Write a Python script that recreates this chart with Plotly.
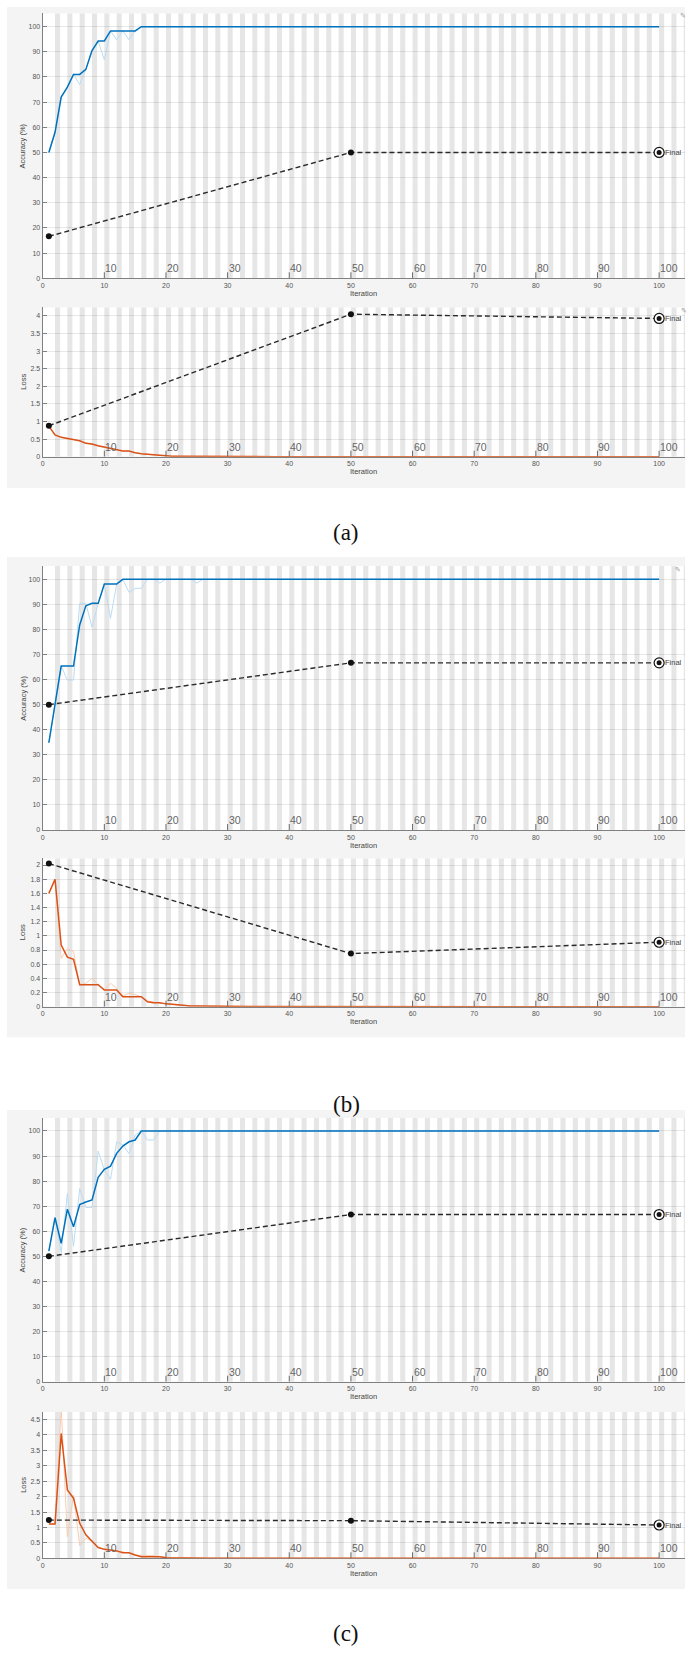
import plotly.graph_objects as go

W, H = 692, 1653

# ---------------- data ----------------
ITER = list(range(1, 101))

ACC_A_SMOOTH = [50, 58, 72, 76, 81, 81, 83, 90.5, 94.3, 94.3, 98.3, 98.3, 98.3, 98.3, 98.3, 100, 100, 100, 100, 100,
                100, 100, 100, 100, 100, 100, 100, 100, 100, 100, 100, 100, 100, 100, 100, 100, 100, 100, 100, 100,
                100, 100, 100, 100, 100, 100, 100, 100, 100, 100, 100, 100, 100, 100, 100, 100, 100, 100, 100, 100,
                100, 100, 100, 100, 100, 100, 100, 100, 100, 100, 100, 100, 100, 100, 100, 100, 100, 100, 100, 100,
                100, 100, 100, 100, 100, 100, 100, 100, 100, 100, 100, 100, 100, 100, 100, 100, 100, 100, 100, 100]
ACC_A_RAW = [50, 58, 72, 76, 81, 77, 83, 90.5, 94.3, 86.8, 98.3, 94.8, 98.3, 94.8, 98.3, 100, 100, 100, 100, 100,
             100, 100, 100, 100, 100, 100, 100, 100, 100, 100, 100, 100, 100, 100, 100, 100, 100, 100, 100, 100,
             100, 100, 100, 100, 100, 100, 100, 100, 100, 100, 100, 100, 100, 100, 100, 100, 100, 100, 100, 100,
             100, 100, 100, 100, 100, 100, 100, 100, 100, 100, 100, 100, 100, 100, 100, 100, 100, 100, 100, 100,
             100, 100, 100, 100, 100, 100, 100, 100, 100, 100, 100, 100, 100, 100, 100, 100, 100, 100, 100, 100]
LOSS_A_SMOOTH = [0.87, 0.62, 0.55, 0.52, 0.49, 0.455, 0.38, 0.36, 0.31, 0.27, 0.23, 0.19, 0.16, 0.16, 0.11, 0.085, 0.07, 0.05, 0.03, 0.02,
                 0.015, 0.012, 0.01, 0.008, 0.006, 0.005, 0.004, 0.004, 0.003, 0.003, 0.003, 0.002, 0.002, 0.002, 0.002, 0.002, 0.001, 0.001, 0.001, 0.001,
                 0.001, 0.001, 0.001, 0.001, 0.001, 0.001, 0.001, 0.001, 0.001, 0.001, 0.001, 0.001, 0.001, 0.001, 0.001, 0.001, 0.001, 0.001, 0.001, 0.001,
                 0.001, 0.001, 0.001, 0.001, 0.001, 0.001, 0.001, 0.001, 0.001, 0.001, 0.0, 0.0, 0.0, 0.0, 0.0, 0.0, 0.0, 0.0, 0.0, 0.0,
                 0.0, 0.0, 0.0, 0.0, 0.0, 0.0, 0.0, 0.0, 0.0, 0.0, 0.0, 0.0, 0.0, 0.0, 0.0, 0.0, 0.0, 0.0, 0.0, 0.0]
LOSS_A_RAW = [0.87, 0.6, 0.56, 0.5, 0.49, 0.44, 0.38, 0.35, 0.3, 0.27, 0.22, 0.19, 0.16, 0.15, 0.11, 0.08, 0.07, 0.05, 0.03, 0.02,
              0.012, 0.01, 0.007, 0.005, 0.004, 0.004, 0.003, 0.003, 0.003, 0.002, 0.002, 0.002, 0.002, 0.001, 0.001, 0.001, 0.001, 0.001, 0.001, 0.001,
              0.001, 0.001, 0.001, 0.001, 0.001, 0.001, 0.001, 0.001, 0.001, 0.001, 0.001, 0.001, 0.001, 0.001, 0.001, 0.001, 0.001, 0.001, 0.001, 0.001,
              0.001, 0.001, 0.001, 0.001, 0.001, 0.001, 0.0, 0.0, 0.0, 0.0, 0.0, 0.0, 0.0, 0.0, 0.0, 0.0, 0.0, 0.0, 0.0, 0.0,
              0.0, 0.0, 0.0, 0.0, 0.0, 0.0, 0.0, 0.0, 0.0, 0.0, 0.0, 0.0, 0.0, 0.0, 0.0, 0.0, 0.0, 0.0, 0.0, 0.0]

ACC_B_SMOOTH = [34.8, 50, 65.4, 65.4, 65.4, 81.8, 89.4, 90.4, 90.4, 98.1, 98.1, 98.1, 100, 100, 100, 100, 100, 100, 100, 100,
                100, 100, 100, 100, 100, 100, 100, 100, 100, 100, 100, 100, 100, 100, 100, 100, 100, 100, 100, 100,
                100, 100, 100, 100, 100, 100, 100, 100, 100, 100, 100, 100, 100, 100, 100, 100, 100, 100, 100, 100,
                100, 100, 100, 100, 100, 100, 100, 100, 100, 100, 100, 100, 100, 100, 100, 100, 100, 100, 100, 100,
                100, 100, 100, 100, 100, 100, 100, 100, 100, 100, 100, 100, 100, 100, 100, 100, 100, 100, 100, 100]
ACC_B_RAW = [34.8, 50, 65.4, 59.8, 59.8, 90.4, 90.4, 80.9, 90.4, 98.1, 84.4, 98.1, 100, 94.8, 96.4, 96.4, 100, 100, 98.5, 100,
             100, 100, 100, 100, 98.5, 100, 100, 100, 100, 100, 100, 100, 100, 100, 100, 100, 100, 100, 100, 100,
             100, 100, 100, 100, 100, 100, 100, 100, 100, 100, 100, 100, 100, 100, 100, 100, 100, 100, 100, 100,
             100, 100, 100, 100, 100, 100, 100, 100, 100, 100, 100, 100, 100, 100, 100, 100, 100, 100, 100, 100,
             100, 100, 100, 100, 100, 100, 100, 100, 100, 100, 100, 100, 100, 100, 100, 100, 100, 100, 100, 100]
LOSS_B_SMOOTH = [1.6, 1.8, 0.87, 0.7, 0.67, 0.31, 0.31, 0.31, 0.31, 0.235, 0.235, 0.235, 0.14, 0.14, 0.14, 0.14, 0.07, 0.056, 0.056, 0.04,
                 0.035, 0.024, 0.015, 0.01, 0.01, 0.008, 0.006, 0.005, 0.004, 0.004, 0.003, 0.003, 0.003, 0.002, 0.002, 0.002, 0.002, 0.002, 0.001, 0.001,
                 0.001, 0.001, 0.001, 0.001, 0.001, 0.001, 0.001, 0.001, 0.001, 0.001, 0.001, 0.001, 0.001, 0.001, 0.001, 0.001, 0.001, 0.001, 0.001, 0.001,
                 0.001, 0.001, 0.001, 0.001, 0.001, 0.0, 0.0, 0.0, 0.0, 0.0, 0.0, 0.0, 0.0, 0.0, 0.0, 0.0, 0.0, 0.0, 0.0, 0.0,
                 0.0, 0.0, 0.0, 0.0, 0.0, 0.0, 0.0, 0.0, 0.0, 0.0, 0.0, 0.0, 0.0, 0.0, 0.0, 0.0, 0.0, 0.0, 0.0, 0.0]
LOSS_B_RAW = [1.6, 1.8, 0.68, 0.82, 0.78, 0.31, 0.33, 0.4, 0.31, 0.24, 0.33, 0.26, 0.15, 0.19, 0.17, 0.14, 0.08, 0.06, 0.05, 0.04,
              0.03, 0.02, 0.015, 0.01, 0.012, 0.008, 0.006, 0.005, 0.004, 0.003, 0.003, 0.003, 0.002, 0.002, 0.002, 0.002, 0.002, 0.001, 0.001, 0.001,
              0.001, 0.001, 0.001, 0.001, 0.001, 0.001, 0.001, 0.001, 0.001, 0.001, 0.001, 0.001, 0.001, 0.001, 0.001, 0.001, 0.001, 0.001, 0.001, 0.001,
              0.001, 0.001, 0.001, 0.001, 0.0, 0.0, 0.0, 0.0, 0.0, 0.0, 0.0, 0.0, 0.0, 0.0, 0.0, 0.0, 0.0, 0.0, 0.0, 0.0,
              0.0, 0.0, 0.0, 0.0, 0.0, 0.0, 0.0, 0.0, 0.0, 0.0, 0.0, 0.0, 0.0, 0.0, 0.0, 0.0, 0.0, 0.0, 0.0, 0.0]

ACC_C_SMOOTH = [52.1, 65.4, 55.2, 68.8, 61.8, 70.7, 71.7, 72.5, 81.5, 84.7, 86, 91.1, 94, 95.7, 96.4, 100, 100, 100, 100, 100,
                100, 100, 100, 100, 100, 100, 100, 100, 100, 100, 100, 100, 100, 100, 100, 100, 100, 100, 100, 100,
                100, 100, 100, 100, 100, 100, 100, 100, 100, 100, 100, 100, 100, 100, 100, 100, 100, 100, 100, 100,
                100, 100, 100, 100, 100, 100, 100, 100, 100, 100, 100, 100, 100, 100, 100, 100, 100, 100, 100, 100,
                100, 100, 100, 100, 100, 100, 100, 100, 100, 100, 100, 100, 100, 100, 100, 100, 100, 100, 100, 100]
ACC_C_RAW = [52.1, 65.4, 51.5, 75.1, 54, 77, 69.5, 69.5, 92, 84.4, 80.7, 95.7, 94.4, 91, 98.4, 100, 96.4, 96.4, 100, 100,
             100, 100, 100, 100, 100, 100, 100, 100, 100, 100, 100, 100, 100, 100, 100, 100, 100, 100, 100, 100,
             100, 100, 100, 100, 100, 100, 100, 100, 100, 100, 100, 100, 100, 100, 100, 100, 100, 100, 100, 100,
             100, 100, 100, 100, 100, 100, 100, 100, 100, 100, 100, 100, 100, 100, 100, 100, 100, 100, 100, 100,
             100, 100, 100, 100, 100, 100, 100, 100, 100, 100, 100, 100, 100, 100, 100, 100, 100, 100, 100, 100]
LOSS_C_SMOOTH = [1.11, 1.11, 4.05, 2.22, 1.95, 1.14, 0.76, 0.54, 0.35, 0.29, 0.27, 0.24, 0.18, 0.18, 0.11, 0.054, 0.05, 0.05, 0.05, 0.02,
                 0.015, 0.012, 0.01, 0.008, 0.006, 0.005, 0.004, 0.004, 0.003, 0.003, 0.003, 0.002, 0.002, 0.002, 0.002, 0.002, 0.001, 0.001, 0.001, 0.001,
                 0.001, 0.001, 0.001, 0.001, 0.001, 0.001, 0.001, 0.001, 0.001, 0.001, 0.001, 0.001, 0.001, 0.001, 0.001, 0.001, 0.001, 0.001, 0.001, 0.001,
                 0.001, 0.001, 0.001, 0.001, 0.001, 0.0, 0.0, 0.0, 0.0, 0.0, 0.0, 0.0, 0.0, 0.0, 0.0, 0.0, 0.0, 0.0, 0.0, 0.0,
                 0.0, 0.0, 0.0, 0.0, 0.0, 0.0, 0.0, 0.0, 0.0, 0.0, 0.0, 0.0, 0.0, 0.0, 0.0, 0.0, 0.0, 0.0, 0.0, 0.0]
LOSS_C_RAW = [1.11, 1.11, 4.9, 0.7, 2.05, 0.42, 0.65, 0.55, 0.35, 0.3, 0.28, 0.25, 0.2, 0.17, 0.1, 0.09, 0.1, 0.09, 0.05, 0.02,
              0.014, 0.01, 0.009, 0.007, 0.006, 0.005, 0.004, 0.003, 0.003, 0.003, 0.002, 0.002, 0.002, 0.002, 0.001, 0.001, 0.001, 0.001, 0.001, 0.001,
              0.001, 0.001, 0.001, 0.001, 0.001, 0.001, 0.001, 0.001, 0.001, 0.001, 0.001, 0.001, 0.001, 0.001, 0.001, 0.001, 0.001, 0.001, 0.001, 0.001,
              0.001, 0.001, 0.001, 0.0, 0.0, 0.0, 0.0, 0.0, 0.0, 0.0, 0.0, 0.0, 0.0, 0.0, 0.0, 0.0, 0.0, 0.0, 0.0, 0.0,
              0.0, 0.0, 0.0, 0.0, 0.0, 0.0, 0.0, 0.0, 0.0, 0.0, 0.0, 0.0, 0.0, 0.0, 0.0, 0.0, 0.0, 0.0, 0.0, 0.0]

VAL_ITER = [1, 50, 100]
VAL_ACC_A = [16.67, 50.0, 50.0]
VAL_LOSS_A = [0.88, 4.05, 3.93]
VAL_ACC_B = [50.0, 66.67, 66.67]
VAL_LOSS_B = [2.02, 0.75, 0.91]
VAL_ACC_C = [50.0, 66.67, 66.67]
VAL_LOSS_C = [1.24, 1.22, 1.08]

X_TICKS = [0, 10, 20, 30, 40, 50, 60, 70, 80, 90, 100]
EPOCH_MARKS = [10, 20, 30, 40, 50, 60, 70, 80, 90, 100]
ACC_TICKS = [0, 10, 20, 30, 40, 50, 60, 70, 80, 90, 100]
LOSS_A_TICKS = [0, 0.5, 1, 1.5, 2, 2.5, 3, 3.5, 4]
LOSS_A_TEXT = ["0", "0.5", "1", "1.5", "2", "2.5", "3", "3.5", "4"]
LOSS_B_TICKS = [0, 0.2, 0.4, 0.6, 0.8, 1, 1.2, 1.4, 1.6, 1.8, 2]
LOSS_B_TEXT = ["0", "0.2", "0.4", "0.6", "0.8", "1", "1.2", "1.4", "1.6", "1.8", "2"]
LOSS_C_TICKS = [0, 0.5, 1, 1.5, 2, 2.5, 3, 3.5, 4, 4.5]
LOSS_C_TEXT = ["0", "0.5", "1", "1.5", "2", "2.5", "3", "3.5", "4", "4.5"]
CAPTIONS = ["(a)", "(b)", "(c)"]

# ---------------- style / layout ----------------
DARK_BLUE = "#0072BD"
LIGHT_BLUE = "#bcdcf2"
DARK_ORANGE = "#D95319"
LIGHT_ORANGE = "#f7cdb0"
STRIPE = "#e6e6e6"
PANEL_BG = "#f4f4f4"
AXIS_C = "#808080"
TXT_C = "#555555"
FONT = "Liberation Sans"

XMAX = 104.2
X_LEFT, X_RIGHT = 42.7, 685.0


def px_x(p):
    return p / W


def px_y(p):
    return 1 - p / H


subplots = [
    dict(top=13.3, bottom=278.3, ymax=105.3, ticks=ACC_TICKS, text=[str(t) for t in ACC_TICKS],
         raw=ACC_A_RAW, smooth=ACC_A_SMOOTH, val=VAL_ACC_A, kind="acc", icon=(682.7, 16)),
    dict(top=307.3, bottom=456.7, ymax=4.247, ticks=LOSS_A_TICKS, text=LOSS_A_TEXT,
         raw=LOSS_A_RAW, smooth=LOSS_A_SMOOTH, val=VAL_LOSS_A, kind="loss", icon=(684, 311)),
    dict(top=566.0, bottom=830.0, ymax=105.3, ticks=ACC_TICKS, text=[str(t) for t in ACC_TICKS],
         raw=ACC_B_RAW, smooth=ACC_B_SMOOTH, val=VAL_ACC_B, kind="acc", icon=(678.3, 570)),
    dict(top=858.3, bottom=1006.7, ymax=2.095, ticks=LOSS_B_TICKS, text=LOSS_B_TEXT,
         raw=LOSS_B_RAW, smooth=LOSS_B_SMOOTH, val=VAL_LOSS_B, kind="loss", icon=None),
    dict(top=1117.7, bottom=1381.7, ymax=105.3, ticks=ACC_TICKS, text=[str(t) for t in ACC_TICKS],
         raw=ACC_C_RAW, smooth=ACC_C_SMOOTH, val=VAL_ACC_C, kind="acc", icon=None),
    dict(top=1412.0, bottom=1558.3, ymax=4.745, ticks=LOSS_C_TICKS, text=LOSS_C_TEXT,
         raw=LOSS_C_RAW, smooth=LOSS_C_SMOOTH, val=VAL_LOSS_C, kind="loss", icon=None),
]

panels = [(7, 488), (557, 1037.3), (1110, 1589)]
caption_y = [532, 1104, 1633]

fig = go.Figure()
shapes = []
annotations = []

for (t, b) in panels:
    shapes.append(dict(type="rect", xref="paper", yref="paper", x0=px_x(7), x1=px_x(685),
                       y0=px_y(b), y1=px_y(t), fillcolor=PANEL_BG, line=dict(width=0), layer="below"))

for i, sp in enumerate(subplots, start=1):
    xa = "x" if i == 1 else f"x{i}"
    ya = "y" if i == 1 else f"y{i}"
    xkey = "xaxis" if i == 1 else f"xaxis{i}"
    ykey = "yaxis" if i == 1 else f"yaxis{i}"

    fig.layout[xkey] = dict(domain=[px_x(X_LEFT), px_x(X_RIGHT)], range=[0, XMAX], anchor=ya,
                            showgrid=False, zeroline=False, showline=True, linecolor=AXIS_C, linewidth=1.2,
                            tickvals=X_TICKS, ticks="", tickfont=dict(family=FONT, size=7, color=TXT_C),
                            fixedrange=True, layer="below traces")
    fig.layout[ykey] = dict(domain=[px_y(sp["bottom"]), px_y(sp["top"])], range=[0, sp["ymax"]], anchor=xa,
                            showgrid=True, gridcolor="rgba(0,0,0,0.09)", gridwidth=1, zeroline=False,
                            showline=True, linecolor=AXIS_C, linewidth=1.2,
                            tickvals=sp["ticks"], ticktext=sp["text"], ticks="inside", ticklen=4,
                            tickcolor=AXIS_C, tickfont=dict(family=FONT, size=7, color=TXT_C), fixedrange=True,
                            layer="below traces")

    # white plotting area and epoch stripes
    shapes.append(dict(type="rect", xref=xa, yref=ya, x0=0, x1=XMAX, y0=0, y1=sp["ymax"],
                       fillcolor="white", line=dict(width=0), layer="below"))
    k = 2
    while k < XMAX:
        shapes.append(dict(type="rect", xref=xa, yref=ya, x0=k, x1=min(k + 0.82, XMAX), y0=0, y1=sp["ymax"],
                           fillcolor=STRIPE, line=dict(width=0), layer="below"))
        k += 2

    # epoch labels with small ticks
    for e in EPOCH_MARKS:
        shapes.append(dict(type="line", xref=xa, yref=ya, x0=e, x1=e, ysizemode="pixel", yanchor=0,
                           y0=0, y1=6, line=dict(color="#6a6a6a", width=1), layer="above"))
        annotations.append(dict(x=e, y=0, xref=xa, yref=ya, text=str(e), showarrow=False,
                                xanchor="left", yanchor="bottom", xshift=-1, yshift=2,
                                font=dict(family=FONT, size=10.5, color="#666666")))

    raw_c, sm_c = (LIGHT_BLUE, DARK_BLUE) if sp["kind"] == "acc" else (LIGHT_ORANGE, DARK_ORANGE)
    fig.add_trace(go.Scatter(x=ITER, y=sp["raw"], mode="lines", line=dict(color=raw_c, width=1),
                             xaxis=xa, yaxis=ya, showlegend=False))
    fig.add_trace(go.Scatter(x=ITER, y=sp["smooth"], mode="lines", line=dict(color=sm_c, width=1.5),
                             xaxis=xa, yaxis=ya, showlegend=False))
    fig.add_trace(go.Scatter(x=VAL_ITER, y=sp["val"], mode="lines",
                             line=dict(color="#2a2a2a", width=1.4, dash="5px,3px"),
                             xaxis=xa, yaxis=ya, showlegend=False))
    fig.add_trace(go.Scatter(x=VAL_ITER[:2], y=sp["val"][:2], mode="markers",
                             marker=dict(color="#111111", size=6), cliponaxis=False,
                             xaxis=xa, yaxis=ya, showlegend=False))
    fig.add_trace(go.Scatter(x=VAL_ITER[2:], y=sp["val"][2:], mode="markers",
                             marker=dict(color="white", size=10, line=dict(color="#111111", width=1.2)),
                             cliponaxis=False, xaxis=xa, yaxis=ya, showlegend=False))
    fig.add_trace(go.Scatter(x=VAL_ITER[2:], y=sp["val"][2:], mode="markers",
                             marker=dict(color="#111111", size=5), cliponaxis=False,
                             xaxis=xa, yaxis=ya, showlegend=False))
    annotations.append(dict(x=VAL_ITER[2], y=sp["val"][2], xref=xa, yref=ya, text="Final", showarrow=False,
                            xanchor="left", yanchor="middle", xshift=4,
                            font=dict(family=FONT, size=7.5, color="#444444")))

    # axis titles
    annotations.append(dict(x=px_x((X_LEFT + X_RIGHT) / 2), y=px_y(sp["bottom"] + 15), xref="paper", yref="paper",
                            text="Iteration", showarrow=False, xanchor="center", yanchor="middle",
                            font=dict(family=FONT, size=7.5, color="#444444")))
    annotations.append(dict(x=px_x(22.7), y=px_y((sp["top"] + sp["bottom"]) / 2), xref="paper", yref="paper",
                            text="Accuracy (%)" if sp["kind"] == "acc" else "Loss", textangle=-90,
                            showarrow=False, xanchor="center", yanchor="middle",
                            font=dict(family=FONT, size=7.5, color="#444444")))
    if sp["icon"] is not None:
        annotations.append(dict(x=px_x(sp["icon"][0]), y=px_y(sp["icon"][1]), xref="paper", yref="paper",
                                text="✎", showarrow=False, xanchor="center", yanchor="middle",
                                font=dict(family="DejaVu Sans", size=7, color="#9a9a9a")))

for cap, cy in zip(CAPTIONS, caption_y):
    annotations.append(dict(x=px_x(346), y=px_y(cy), xref="paper", yref="paper", text=cap, showarrow=False,
                            xanchor="center", yanchor="middle",
                            font=dict(family="Liberation Serif", size=23, color="#111111")))

fig.update_layout(width=W, height=H, margin=dict(l=0, r=0, t=0, b=0, pad=0, autoexpand=False),
                  paper_bgcolor="white", plot_bgcolor="white", showlegend=False,
                  shapes=shapes, annotations=annotations, hovermode=False)

fig.write_html("out.html", config={"displayModeBar": False})
